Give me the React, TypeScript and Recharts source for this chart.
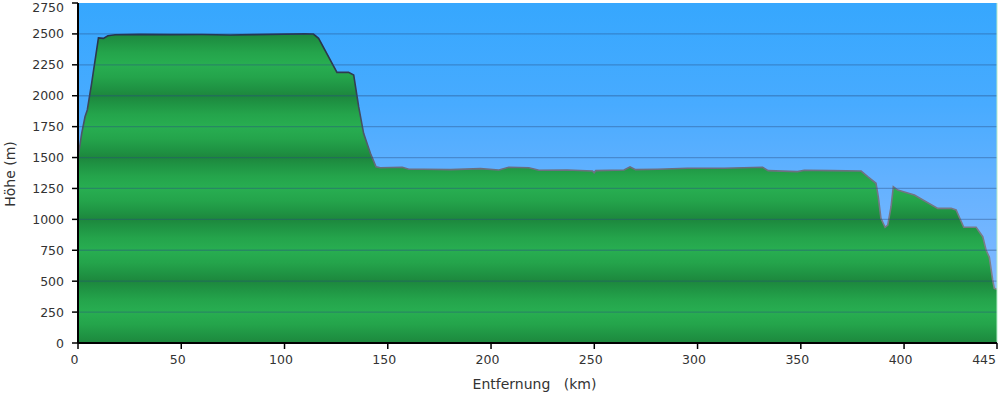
import React from "react";
import {
  AreaChart,
  Area,
  XAxis,
  YAxis,
  CartesianGrid,
  ReferenceLine,
} from "recharts";

// Distance (km)
const KM = [
  0, 1.8, 3.4, 4.5, 6.6, 9.9, 12.3, 14.5, 18, 30, 45, 60, 73.7, 85, 100, 110,
  114, 116.5, 125.4, 131, 133.5, 135.9, 138.3, 141.6, 144.3, 146.4, 157, 160.2,
  167.4, 180.4, 194.9, 203.8, 208.6, 218.3, 223.2, 236.9, 249.1, 249.9, 250.7,
  264.4, 267.3, 270, 280.6, 295.1, 312.9, 331.5, 334.2, 348.4, 351.7, 364.6,
  379.2, 382.4, 386.4, 387.5, 388.8, 390.8, 392.1, 393.7, 394.8, 396.9, 405,
  416.3, 422.8, 425.2, 428.9, 434.9, 438.1, 439.7, 441.3, 442.9, 443.7, 445,
];
// Elevation (m)
const ELEV = [
  1500, 1696, 1830, 1885, 2100, 2468, 2464, 2485, 2493, 2496, 2494, 2495, 2491,
  2494, 2498, 2500, 2499, 2464, 2189, 2189, 2167, 1911, 1696, 1534, 1426, 1418,
  1421, 1405, 1405, 1402, 1410, 1399, 1421, 1418, 1397, 1399, 1391, 1377, 1394,
  1399, 1424, 1402, 1405, 1413, 1413, 1421, 1394, 1386, 1397, 1394, 1391, 1345,
  1292, 1183, 1008, 936, 954, 1102, 1264, 1237, 1197, 1089, 1089, 1076, 936,
  936, 860, 752, 693, 510, 442, 434,
];

const X_TICKS = [0, 50, 100, 150, 200, 250, 300, 350, 400, 445];
const Y_TICKS = [0, 250, 500, 750, 1000, 1250, 1500, 1750, 2000, 2250, 2500, 2750];

const data = KM.map((k, i) => ({ km: k, elev: ELEV[i] }));

const PLOT_TOP = 3;
const PLOT_BOTTOM = 343;
const Y_MAX = 2750;
const FONT = "'DejaVu Sans', Verdana, sans-serif";

// green banded fill stops (period 500 m)
function greenStops() {
  const stops: { off: number; color: string }[] = [];
  const shape: [number, string][] = [
    [0, "#1d873d"],
    [60, "#1f9343"],
    [150, "#24a44b"],
    [250, "#28ae51"],
    [350, "#24a44b"],
    [440, "#1f9343"],
  ];
  for (let base = 0; base <= Y_MAX; base += 500) {
    for (const [d, c] of shape) {
      const v = base + d;
      if (v > Y_MAX) continue;
      stops.push({ off: (Y_MAX - v) / Y_MAX, color: c });
    }
  }
  stops.sort((a, b) => a.off - b.off);
  return stops;
}

const YTick = (props: any) => {
  const { x, y, payload } = props;
  const yy = Math.max(y, 7.5);
  return (
    <text
      x={x}
      y={yy}
      textAnchor="end"
      dominantBaseline="central"
      fontFamily={FONT}
      fontSize={12.5}
      fill="#333"
    >
      {payload.value}
    </text>
  );
};

const XTick = (props: any) => {
  const { x, y, payload } = props;
  const last = payload.value === 445;
  return (
    <text
      x={last ? x - 1 : x - 3.5}
      y={y}
      dy="0.71em"
      textAnchor={last ? "end" : "middle"}
      fontFamily={FONT}
      fontSize={12.5}
      fill="#333"
    >
      {payload.value}
    </text>
  );
};

const YLabel = (props: any) => {
  const { viewBox } = props;
  const cx = 10;
  const cy = viewBox.y + viewBox.height / 2 + 1;
  return (
    <text
      x={cx}
      y={cy}
      transform={`rotate(-90, ${cx}, ${cy})`}
      textAnchor="middle"
      dominantBaseline="central"
      fontFamily={FONT}
      fontSize={14}
      fill="#333"
    >
      Höhe (m)
    </text>
  );
};

export default function App() {
  const gs = greenStops();
  return (
    <div style={{ position: "absolute", left: 0, top: 0, width: 1000, height: 394, background: "#fff" }}>
      <AreaChart
        width={1000}
        height={394}
        data={data}
        margin={{ top: PLOT_TOP, right: 3, bottom: 0, left: 0 }}
      >
        <defs>
          <linearGradient id="bg" x1="0" y1="0" x2="0" y2="1">
            <stop offset="0" stopColor="#36a7fe" />
            <stop offset="0.3" stopColor="#48abff" />
            <stop offset="0.55" stopColor="#66b2ff" />
            <stop offset="1" stopColor="#92bdff" />
          </linearGradient>
          <linearGradient
            id="green"
            gradientUnits="userSpaceOnUse"
            x1="0"
            y1={PLOT_TOP}
            x2="0"
            y2={PLOT_BOTTOM}
          >
            {gs.map((s, i) => (
              <stop key={i} offset={s.off} stopColor={s.color} />
            ))}
          </linearGradient>
          <linearGradient
            id="edge"
            gradientUnits="userSpaceOnUse"
            x1="0"
            y1={PLOT_TOP}
            x2="0"
            y2={PLOT_BOTTOM}
          >
            <stop offset="0.08" stopColor="#26324a" />
            <stop offset="0.25" stopColor="#333d52" />
            <stop offset="0.45" stopColor="#5a6272" />
            <stop offset="0.5" stopColor="#6e7282" />
            <stop offset="1" stopColor="#8a8a8e" />
          </linearGradient>
        </defs>
        <CartesianGrid
          horizontal={false}
          vertical={false}
          fill="url(#bg)"
          fillOpacity={1}
        />
        <XAxis
          dataKey="km"
          type="number"
          domain={[0, 445]}
          ticks={X_TICKS}
          interval={0}
          allowDataOverflow
          height={51}
          tickSize={6}
          tickMargin={6}
          axisLine={{ stroke: "#000", strokeWidth: 2 }}
          tickLine={{ stroke: "#000", strokeWidth: 1.5 }}
          tick={<XTick />}
          label={{
            value: "Entfernung\u00A0\u00A0\u00A0(km)",
            position: "insideBottom",
            offset: 5,
            dx: -3,
            fontFamily: FONT,
            fontSize: 14,
            fill: "#333",
          }}
        />
        <YAxis
          type="number"
          domain={[0, Y_MAX]}
          ticks={Y_TICKS}
          interval={0}
          allowDataOverflow
          width={78}
          tickSize={6}
          tickMargin={8}
          axisLine={{ stroke: "#000", strokeWidth: 2 }}
          tickLine={{ stroke: "#000", strokeWidth: 1.5 }}
          tick={<YTick />}
          label={<YLabel />}
        />
        <Area
          type="linear"
          dataKey="elev"
          stroke="url(#edge)"
          strokeWidth={1.6}
          fill="url(#green)"
          fillOpacity={1}
          isAnimationActive={false}
          dot={false}
          activeDot={false}
        />
        {Y_TICKS.filter((v) => v > 0 && v < Y_MAX).map((v) => (
          <ReferenceLine
            key={v}
            y={v}
            stroke="rgba(40,75,130,0.38)"
            strokeWidth={1.3}
          />
        ))}
        <ReferenceLine x={445} stroke="#b6ecc8" strokeWidth={1} />
      </AreaChart>
    </div>
  );
}
